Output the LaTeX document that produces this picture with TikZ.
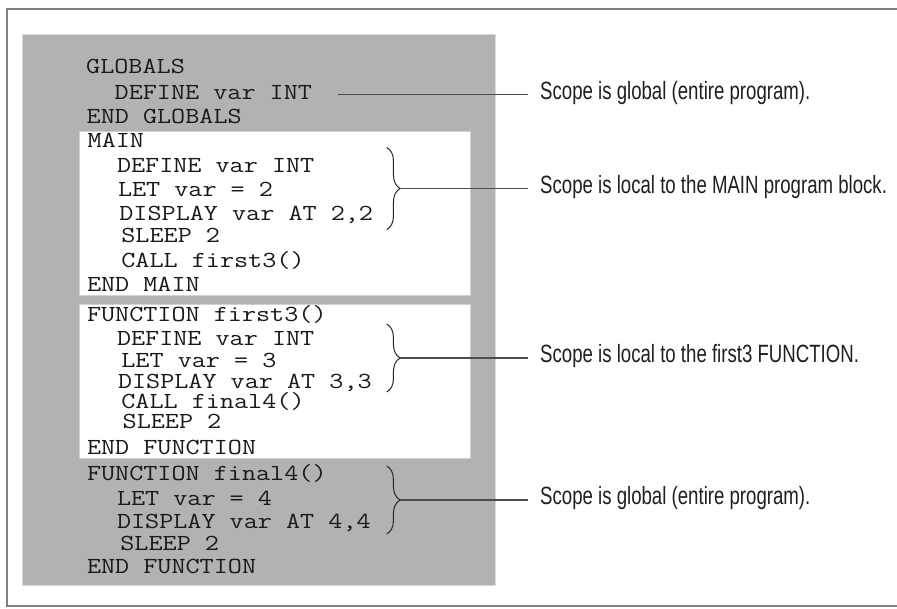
\documentclass[tikz,border=0pt]{standalone}
\usepackage{fontspec}
\setmainfont{Liberation Sans}
\newfontfamily\codefont[FakeStretch=1.19]{Latin Modern Mono}
\newfontfamily\labfont[FakeStretch=0.745]{Liberation Sans}
\usetikzlibrary{decorations.pathreplacing}
\begin{document}
\begin{tikzpicture}[x=1pt,y=-1pt,
  code/.style={anchor=base west,inner sep=0pt,font=\codefont\fontsize{23}{23}\selectfont,text=black!90},
  lab/.style={anchor=base west,inner sep=0pt,font=\labfont\fontsize{25}{25}\selectfont,text=black!88},
  bracestyle/.style={decorate,decoration={brace,amplitude=13.5pt},line width=1pt,draw=black!85},
  conn/.style={line width=1.3pt,draw=black!70},
  frameline/.style={line width=2.6pt,draw=black!50},
  panel/.style={fill=black!30,draw=black!15,line width=0.8pt},
  whitebox/.style={fill=white,draw=black!18,line width=0.8pt}]
\useasboundingbox (0,0) rectangle (897,608);
\fill[white] (0,0) rectangle (897,608);
\draw[frameline] (897,9) -- (7,9) -- (7,606) -- (897,606);
\path[panel] (22.7,34.3) rectangle (495.3,585.7);
\path[whitebox] (79.3,131.7) rectangle (470.3,295);
\path[whitebox] (79.3,304) rectangle (470.3,458.3);

% code lines
\node[code] (t1)  at (86,73.3)   {GLOBALS};
\node[code] (t2)  at (114.5,99.3) {DEFINE var INT};
\node[code] (t3)  at (86.5,123.3) {END GLOBALS};
\node[code] (t4)  at (87.5,147.7) {MAIN};
\node[code] (t5)  at (116.8,172.7) {DEFINE var INT};
\node[code] (t6)  at (117.8,196.7) {LET var = 2};
\node[code] (t7)  at (119.2,220) {DISPLAY var AT 2,2};
\node[code] (t8)  at (121.2,242.3) {SLEEP 2};
\node[code] (t9)  at (121.2,267.3) {CALL first3()};
\node[code] (t10) at (86.8,291) {END MAIN};
\node[code] (t11) at (86.8,321.7) {FUNCTION first3()};
\node[code] (t12) at (116.8,345.7) {DEFINE var INT};
\node[code] (t13) at (121.2,367.7) {LET var = 3};
\node[code] (t14) at (117.8,388) {DISPLAY var AT 3,3};
\node[code] (t15) at (121.2,408.3) {CALL final4()};
\node[code] (t16) at (122.5,428.3) {SLEEP 2};
\node[code] (t17) at (86.8,454) {END FUNCTION};
\node[code] (t18) at (86.8,480.7) {FUNCTION final4()};
\node[code] (t19) at (116.8,505) {LET var = 4};
\node[code] (t20) at (116.8,528.3) {DISPLAY var AT 4,4};
\node[code] (t21) at (120.2,550) {SLEEP 2};
\node[code] (t22) at (86.8,573.3) {END FUNCTION};

% labels
\node[lab] (l1) at (540,99.5)  {Scope is global (entire program).};
\node[lab] (l2) at (540,193.3) {Scope is local to the MAIN program block.};
\node[lab] (l3) at (540,362.8) {Scope is local to the first3 FUNCTION.};
\node[lab] (l4) at (540,504.8) {Scope is global (entire program).};

% brace and connector points
\coordinate (c1s) at (338.3,94.7);
\coordinate (c1e) at (528.3,94.7);
\coordinate (b1t) at (386.7,147.5);
\coordinate (b1b) at (386.7,229.5);
\coordinate (b1m) at (400.2,188.5);
\coordinate (c2e) at (528.3,188.5);
\coordinate (b2t) at (386.7,324);
\coordinate (b2b) at (386.7,392);
\coordinate (b2m) at (400.2,358);
\coordinate (c3e) at (528.3,358);
\coordinate (b3t) at (386.7,466);
\coordinate (b3b) at (386.7,534);
\coordinate (b3m) at (400.2,500);
\coordinate (c4e) at (528.3,500);

\draw[conn] (c1s) -- (c1e);
\draw[bracestyle] (b1t) -- (b1b);
\draw[conn] (b1m) -- (c2e);
\draw[bracestyle] (b2t) -- (b2b);
\draw[conn] (b2m) -- (c3e);
\draw[bracestyle] (b3t) -- (b3b);
\draw[conn] (b3m) -- (c4e);
\end{tikzpicture}
\end{document}
